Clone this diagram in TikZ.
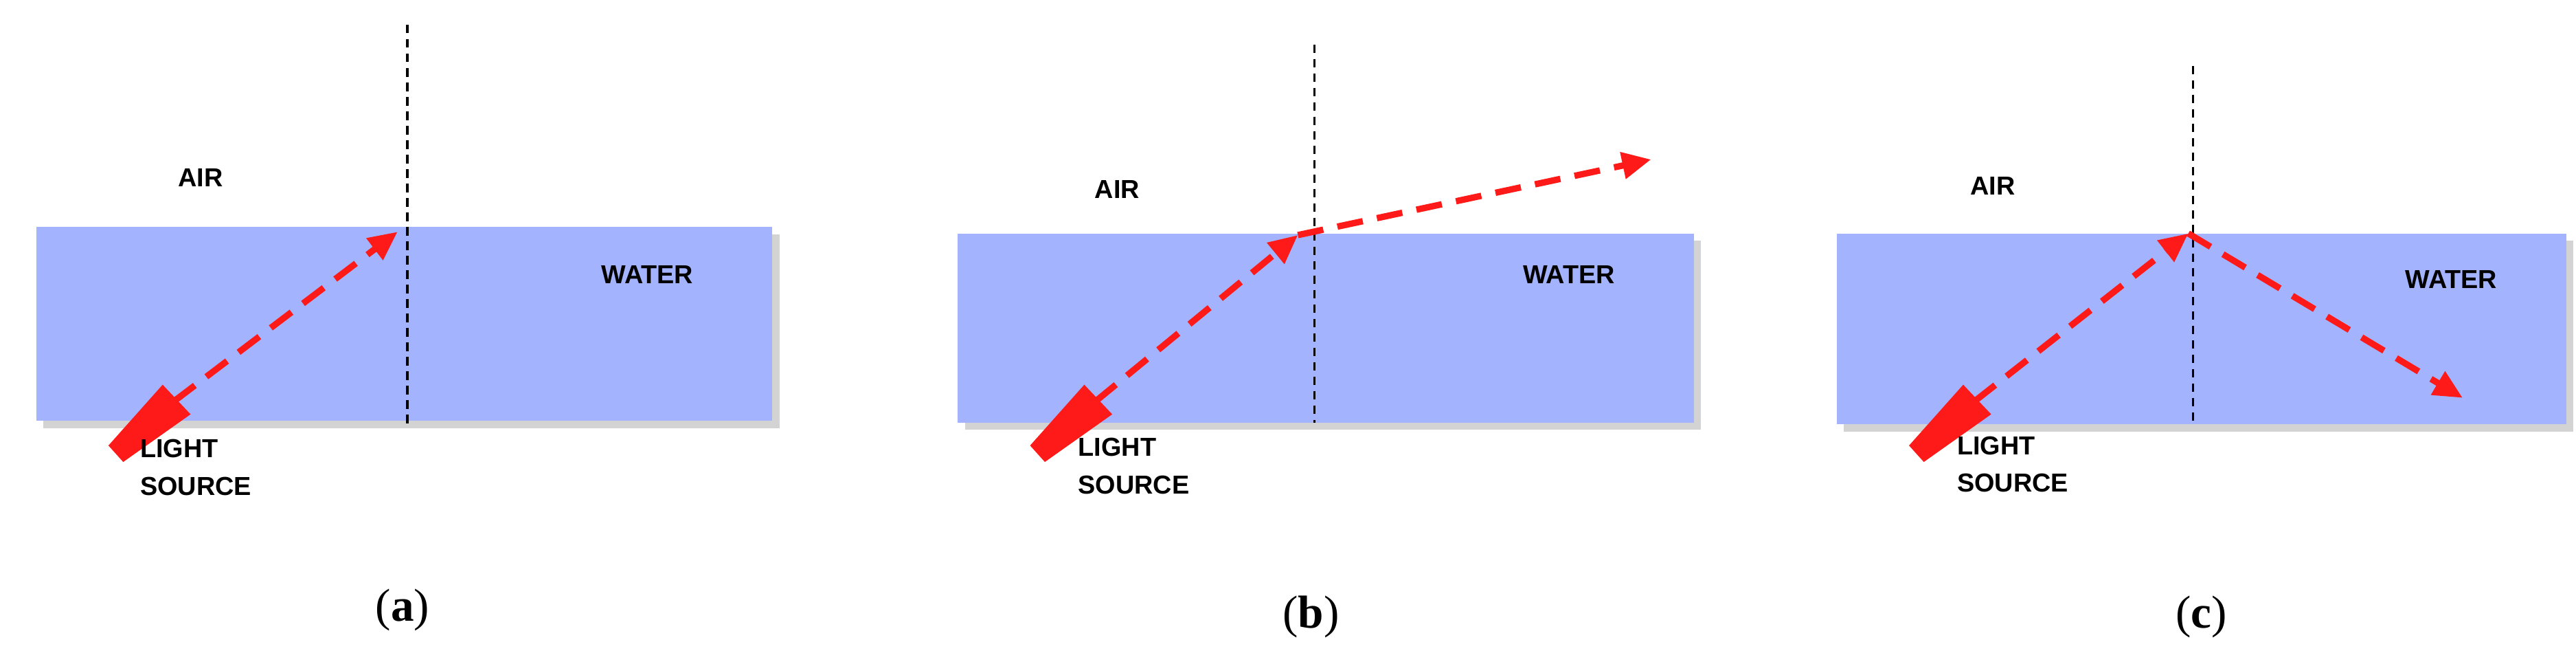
\documentclass[tikz,border=0pt]{standalone}
\usepackage{fontspec}
\setmainfont{Liberation Serif}
\newfontfamily\labelfont{Liberation Sans}
\usetikzlibrary{shadows,arrows.meta}
\definecolor{waterblue}{HTML}{A4B3FD}
\definecolor{rayred}{HTML}{FF1A1A}
\tikzset{
  water/.style={fill=waterblue, draw=none, drop shadow={shadow xshift=2.5pt, shadow yshift=-2.5pt, opacity=0.35}},
  normal/.style={densely dashed, thick, black},
  ray/.style={rayred, line width=2.2pt, dash pattern=on 9pt off 5pt, -{Triangle[length=10pt,width=9pt]}},
  lbl/.style={font=\labelfont\bfseries\fontsize{9}{13}\selectfont, inner sep=0pt, align=left},
  subcap/.style={font=\fontsize{16}{18}\selectfont, inner sep=0pt}
}
\begin{document}
\begin{tikzpicture}[x={(0.02cm,0)}, y={(0,-0.02cm)}]
\useasboundingbox (0,0) rectangle (1568,395.6);
% (a) incidence only
\begin{scope}
  \fill[water] (22,138) rectangle (470,256);
  \coordinate (aTop) at (248,15); \coordinate (aBot) at (248,258);
  \draw[normal] (aTop) -- (aBot);
  \coordinate (aSrc) at (106,244); \coordinate (aHit) at (242,141);
  \draw[ray] (aSrc) -- (aHit);
  \fill[rayred] (66,271) -- (75,281) -- (116,252) -- (99,234) -- cycle;
  \node[lbl] (aAir) at (122,108) {AIR};
  \node[lbl] (aWater) at (394,167) {WATER};
  \node[lbl, anchor=north west] (aLight) at (85,267) {LIGHT\\SOURCE};
  \node[subcap] (aCap) at (245,371) {(\textbf{a})};
\end{scope}
% (b) refraction
\begin{scope}[xshift=561*0.02cm, yshift=-4*0.02cm]
  \fill[water] (22,138) rectangle (470,253);
  \coordinate (bTop) at (239,23); \coordinate (bBot) at (239,253);
  \draw[normal] (bTop) -- (bBot);
  \coordinate (bSrc) at (106,240); \coordinate (bHit) at (229,139);
  \draw[ray] (bSrc) -- (bHit);
  \coordinate (bOut) at (444,93);
  \draw[ray] (bHit) -- (bOut);
  \fill[rayred] (66,267) -- (75,277) -- (116,248) -- (99,230) -- cycle;
  \node[lbl] (bAir) at (119,111) {AIR};
  \node[lbl] (bWater) at (394,163) {WATER};
  \node[lbl, anchor=north west] (bLight) at (95,262) {LIGHT\\SOURCE};
  \node[subcap] (bCap) at (237,371) {(\textbf{b})};
\end{scope}
% (c) total internal reflection
\begin{scope}[xshift=1096*0.02cm, yshift=-4*0.02cm]
  \fill[water] (22,138) rectangle (466,254);
  \coordinate (cTop) at (239,36); \coordinate (cBot) at (239,254);
  \draw[normal] (cTop) -- (cBot);
  \coordinate (cSrc) at (106,240); \coordinate (cHit) at (236,138);
  \draw[ray] (cSrc) -- (cHit);
  \coordinate (cOut) at (403,238);
  \draw[ray] (cHit) -- (cOut);
  \fill[rayred] (66,267) -- (75,277) -- (116,248) -- (99,230) -- cycle;
  \node[lbl] (cAir) at (117,109) {AIR};
  \node[lbl] (cWater) at (396,166) {WATER};
  \node[lbl, anchor=north west] (cLight) at (95,261) {LIGHT\\SOURCE};
  \node[subcap] (cCap) at (244,371) {(\textbf{c})};
\end{scope}
\end{tikzpicture}
\end{document}
